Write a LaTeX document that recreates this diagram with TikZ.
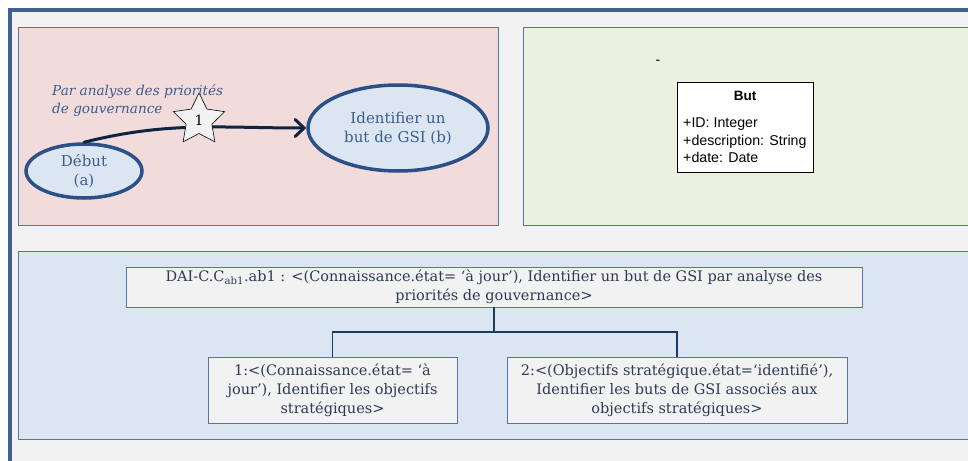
\documentclass[tikz,border=0pt]{standalone}
\usepackage{fontspec}
\setmainfont{DejaVu Serif}
\newfontfamily\umlfont{Liberation Sans}
\usetikzlibrary{shapes.geometric,arrows.meta}
\definecolor{bgray}{HTML}{F2F2F2}
\definecolor{framec}{HTML}{41618F}
\definecolor{pinkc}{HTML}{F2DCDB}
\definecolor{greenc}{HTML}{EBF1DE}
\definecolor{bluec}{HTML}{DCE6F2}
\definecolor{panelb}{HTML}{5575A5}
\definecolor{ellb}{HTML}{2B5088}
\definecolor{ellf}{HTML}{DCE6F2}
\definecolor{navy}{HTML}{0F243E}
\definecolor{txtb}{HTML}{3E5C8E}
\definecolor{txtd}{HTML}{2B3A55}
\definecolor{connc}{HTML}{1F3A5F}
\tikzset{
  panel/.style={draw=panelb, line width=0.8pt, inner sep=0pt, rectangle},
  ell/.style={ellipse, draw=ellb, fill=ellf, line width=3.5pt, inner sep=0pt, align=center, text=txtb, font=\fontsize{15}{19}\selectfont},
  bbox/.style={rectangle, draw=panelb, fill=bgray, line width=0.8pt, inner sep=0pt, align=center, text=txtd, font=\fontsize{14.5}{19}\selectfont},
  conn/.style={draw=connc, line width=1.3pt},
  flow/.style={draw=navy, line width=3pt, line cap=round, -{Straight Barb[length=9pt,width=17pt,line cap=round]}}
}
\begin{document}
\begin{tikzpicture}[x=1pt,y=-1pt]
\useasboundingbox (0,0) rectangle (968,460);
\fill[white] (0,0) rectangle (968,460);
\clip (0,0) rectangle (968,460);
\draw[line width=3.5pt, draw=framec, fill=bgray] (10,10) rectangle (1100,600);
% panels
\node[panel, fill=pinkc, minimum width=480pt, minimum height=198pt] (pnA) at (258,126) {};
\node[panel, fill=greenc, minimum width=477pt, minimum height=198pt] (pnB) at (761.5,126) {};
\node[panel, fill=bluec, minimum width=982pt, minimum height=188pt] (pnC) at (509,345) {};
% top-left process
\node[ell, minimum width=116pt, minimum height=54pt] (deb) at (84,171) {Début\\(a)};
\node[ell, minimum width=180pt, minimum height=86pt] (idf) at (398,128) {Identifier un\\but de GSI (b)};
\draw[flow] (deb.north) to[out=14,in=180] (idf.west);
\node[star, star points=5, star point ratio=2.0, minimum size=54pt, inner sep=0pt, draw=black, line width=0.6pt, fill=bgray, font=\fontsize{14}{14}\selectfont] (st) at (199,120) {1};
\node[font=\itshape\fontsize{13.6}{18}\selectfont, text=txtb, align=left, anchor=north west, inner sep=0pt] (lab) at (52,84) {Par analyse des priorités\\de gouvernance};
% UML class
\node[font=\umlfont\fontsize{14}{14}\selectfont, inner sep=0pt] (dash) at (658,62) {-};
\node[draw=black, fill=white, line width=0.6pt, minimum width=136pt, minimum height=90pt, inner sep=0pt] (uml) at (745,127) {};
\node[font=\umlfont\bfseries\fontsize{13.5}{13.5}\selectfont, inner sep=0pt] (umlt) at (745,96) {But};
\node[anchor=west, font=\umlfont\fontsize{14.2}{17.5}\selectfont, align=left, inner sep=0pt] (umla) at (683,140.5) {+ID: Integer\\+description: String\\+date: Date};
% decomposition
\node[bbox, minimum width=736pt, minimum height=40pt] (top) at (494,287) {DAI-C.C\textsubscript{ab1}.ab1 : <(Connaissance.état= ‘à jour’), Identifier un but de GSI par analyse des\\priorités de gouvernance>};
\node[bbox, minimum width=249pt, minimum height=66pt] (b1) at (332.5,390) {1:<(Connaissance.état= ‘à\\jour’), Identifier les objectifs\\stratégiques>};
\node[bbox, minimum width=340pt, minimum height=66pt] (b2) at (677,390) {2:<(Objectifs stratégique.état=‘identifié’),\\Identifier les buts de GSI associés aux\\objectifs stratégiques>};
\coordinate (mid) at (494,332);
\draw[conn] (top.south) -- (mid);
\draw[conn] (b1.north) |- (mid) -| (b2.north);
\end{tikzpicture}
\end{document}
